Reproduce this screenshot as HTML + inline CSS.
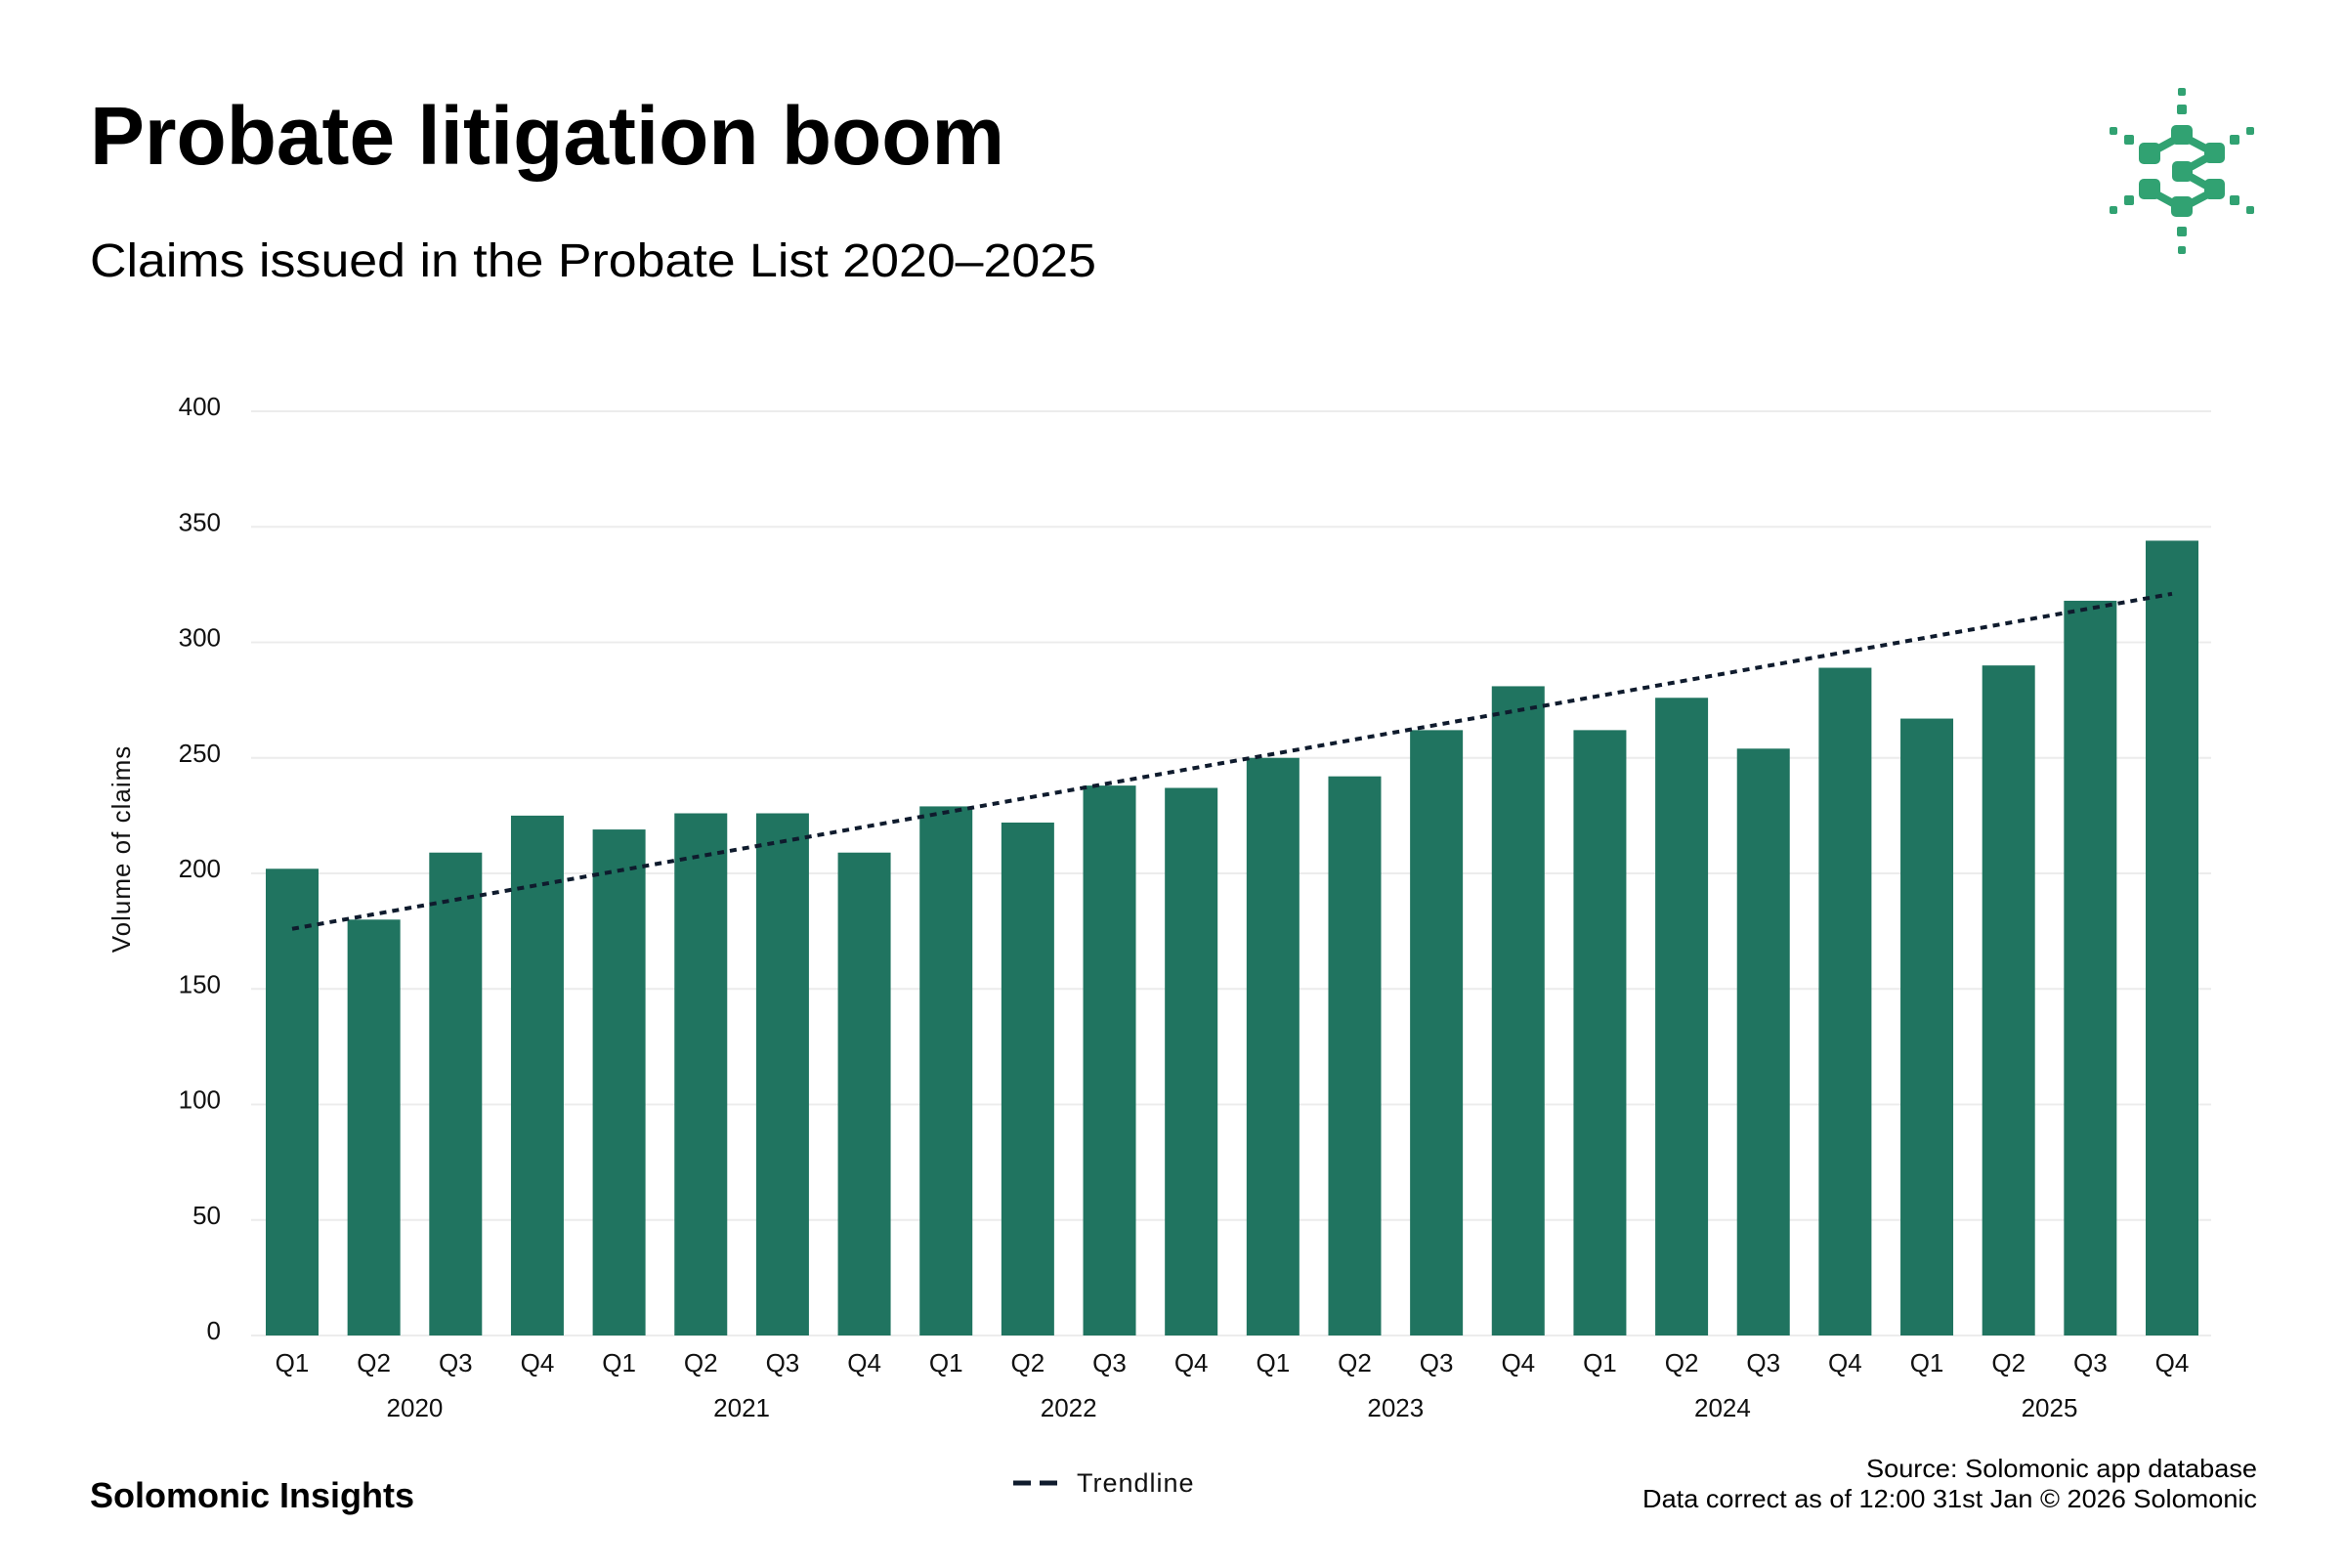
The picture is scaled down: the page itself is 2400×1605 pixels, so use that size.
<!DOCTYPE html>
<html><head><meta charset="utf-8"><style>
body{margin:0;background:#fff;}
svg text{font-family:"Liberation Sans",sans-serif;}
</style></head><body>
<svg width="2400" height="1600" viewBox="0 0 2400 1600" xmlns="http://www.w3.org/2000/svg">
<text x="92" y="168" font-size="84" font-weight="bold" fill="#000" textLength="936" lengthAdjust="spacingAndGlyphs">Probate litigation boom</text>
<text x="92" y="283" font-size="48" fill="#000" textLength="1030" lengthAdjust="spacingAndGlyphs">Claims issued in the Probate List 2020–2025</text>
<g id="logo" fill="#31a272">
<rect x="2229" y="90" width="8" height="8" rx="2"/><rect x="2228" y="107" width="10" height="10" rx="2"/>
<rect x="2228" y="232" width="10" height="10" rx="2"/><rect x="2229" y="252" width="8" height="8" rx="2"/>
<rect x="2159" y="130" width="8" height="8" rx="2"/><rect x="2174" y="138" width="10" height="10" rx="2"/>
<rect x="2299" y="130" width="8" height="8" rx="2"/><rect x="2282" y="138" width="10" height="10" rx="2"/>
<rect x="2159" y="211" width="8" height="8" rx="2"/><rect x="2174" y="200" width="10" height="10" rx="2"/>
<rect x="2299" y="211" width="8" height="8" rx="2"/><rect x="2282" y="200" width="10" height="10" rx="2"/>
<g stroke="#31a272" stroke-width="8" fill="none"><polyline points="2200,157 2233,139 2267,157 2233,176 2267,195 2233,213 2200,195"/></g>
<rect x="2189" y="146" width="22" height="22" rx="5"/><rect x="2222" y="128" width="22" height="20" rx="5"/>
<rect x="2256" y="146" width="21" height="21" rx="5"/><rect x="2223" y="165" width="21" height="21" rx="5"/>
<rect x="2189" y="183" width="22" height="21" rx="5"/><rect x="2256" y="183" width="21" height="21" rx="5"/>
<rect x="2222" y="201" width="22" height="21" rx="5"/>
</g>
<g id="grid"></g><g id="ylabels"></g><g id="bars"></g><g id="trend"></g><g id="xlabels"></g>
<text transform="translate(133,869) rotate(-90)" text-anchor="middle" font-size="26" fill="#111" letter-spacing="1">Volume of claims</text>
<text x="92" y="1543" font-size="36" font-weight="bold" fill="#000" textLength="332" lengthAdjust="spacingAndGlyphs">Solomonic Insights</text>
<line x1="1037" y1="1518" x2="1082" y2="1518" stroke="#0f1b2d" stroke-width="5" stroke-dasharray="18,9"/>
<text x="1102" y="1527" font-size="27" fill="#111" letter-spacing="1">Trendline</text>
<text x="2310" y="1512" text-anchor="end" font-size="26" fill="#000" textLength="400" lengthAdjust="spacingAndGlyphs">Source: Solomonic app database</text>
<text x="2310" y="1543" text-anchor="end" font-size="26" fill="#000" textLength="629" lengthAdjust="spacingAndGlyphs">Data correct as of 12:00 31st Jan © 2026 Solomonic</text>
</svg>
<script>
const quarters=["Q1","Q2","Q3","Q4"];
const years=["2020","2021","2022","2023","2024","2025"];
const values=[202,180,209,225,219,226,226,209,229,222,238,237,250,242,262,281,262,276,254,289,267,290,318,344];
const trendValues=[176,321];
const yTicks=[0,50,100,150,200,250,300,350,400];
const NS="http://www.w3.org/2000/svg";
const x0=299,step=(2223-299)/23,bw=54,yBase=1367,yTop=421,yMax=400;
const xs=i=>x0+i*step;
const ys=v=>yBase-(v/yMax)*(yBase-yTop);
function mk(tag,attrs,parent,text){const e=document.createElementNS(NS,tag);for(const k in attrs)e.setAttribute(k,attrs[k]);if(text!==undefined)e.textContent=text;document.getElementById(parent).appendChild(e);return e;}
yTicks.forEach(t=>{
 const l=mk('line',{x1:257,x2:2263,y1:ys(t),y2:ys(t),stroke:'#ececec','stroke-width':2},'grid');
 
 
 const tx=mk('text',{x:226,y:ys(t)+4,'text-anchor':'end','font-size':26,fill:'#111'},'ylabels',String(t));
 
 
});
values.forEach((v,i)=>{
 const r=mk('rect',{x:xs(i)-bw/2,y:ys(v),width:bw,height:yBase-ys(v),fill:'#207460'},'bars');
 
 
 const q=mk('text',{x:xs(i),y:1404,'text-anchor':'middle','font-size':26,fill:'#111'},'xlabels',quarters[i%4]);
 
 
});
years.forEach((y,j)=>{
 const c=(xs(j*4)+xs(j*4+3))/2;
 const t=mk('text',{x:c,y:1450,'text-anchor':'middle','font-size':26,fill:'#111'},'xlabels',y);
 
 
});
const tl=mk('line',{x1:xs(0),y1:ys(trendValues[0]),x2:xs(values.length-1),y2:ys(trendValues[1]),stroke:'#0f1b2d','stroke-width':4,'stroke-dasharray':'7,6'},'trend');


</script>
</body></html>
